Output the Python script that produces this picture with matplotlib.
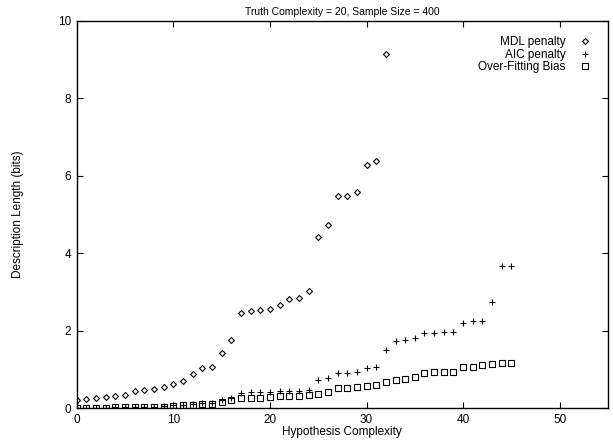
import matplotlib
matplotlib.use("Agg")
import matplotlib.pyplot as plt
import numpy as np

plt.rcParams['font.family'] = ['Liberation Sans', 'DejaVu Sans']

# hypothesis complexity values
mdl_x = list(range(0, 33))
mdl_penalty = [0.22, 0.23, 0.26, 0.28, 0.32, 0.34, 0.44, 0.46, 0.50, 0.54,
               0.62, 0.71, 0.87, 1.04, 1.07, 1.42, 1.77, 2.46, 2.50, 2.53,
               2.57, 2.66, 2.83, 2.85, 3.02, 4.42, 4.74, 5.47, 5.49, 5.57,
               6.27, 6.37, 9.14]

aic_x = list(range(0, 46))
aic_penalty = [0.01, 0.01, 0.01, 0.01, 0.02, 0.02, 0.03, 0.03, 0.04, 0.05,
               0.08, 0.09, 0.10, 0.14, 0.14, 0.20, 0.25, 0.40, 0.41, 0.41,
               0.42, 0.43, 0.44, 0.44, 0.47, 0.72, 0.78, 0.90, 0.90, 0.92,
               1.03, 1.05, 1.50, 1.74, 1.76, 1.82, 1.95, 1.95, 1.97, 1.97,
               2.20, 2.25, 2.26, 2.73, 3.66, 3.68]

bias_x = list(range(0, 46))
overfit_bias = [0.01, 0.01, 0.01, 0.01, 0.02, 0.02, 0.02, 0.02, 0.03, 0.04,
                0.06, 0.07, 0.08, 0.10, 0.10, 0.15, 0.20, 0.25, 0.26, 0.27,
                0.28, 0.30, 0.31, 0.31, 0.34, 0.36, 0.42, 0.53, 0.53, 0.55,
                0.58, 0.59, 0.68, 0.73, 0.74, 0.79, 0.91, 0.93, 0.94, 0.94,
                1.05, 1.07, 1.10, 1.14, 1.17, 1.17]

fig = plt.figure(figsize=(6.13, 4.45), dpi=100)
ax = fig.add_axes([0.125, 0.083, 0.867, 0.87])

ax.plot(mdl_x, mdl_penalty, linestyle='none', marker='D', markersize=3.0,
        markerfacecolor='none', markeredgecolor='black', markeredgewidth=0.8,
        label='MDL penalty')
ax.plot(aic_x, aic_penalty, linestyle='none', marker='+', markersize=5,
        color='black', markeredgewidth=0.8, label='AIC penalty')
ax.plot(bias_x, overfit_bias, linestyle='none', marker='s', markersize=4.2,
        markerfacecolor='none', markeredgecolor='black', markeredgewidth=0.8,
        label='Over-Fitting Bias')

ax.set_xlim(0, 55)
ax.set_ylim(0, 10)
ax.set_xticks(np.arange(0, 51, 10))
ax.set_yticks(np.arange(0, 11, 2))
ax.tick_params(direction='in', top=True, right=True, labelsize=8.5, length=4, pad=4)
for s in ax.spines.values():
    s.set_linewidth(1.0)

ax.set_title('Truth Complexity = 20, Sample Size = 400', fontsize=7.5, pad=4)
ax.set_xlabel('Hypothesis Complexity', fontsize=8.5, labelpad=0)
ax.set_ylabel('Description Length (bits)', fontsize=8.5, labelpad=24)

ax.legend(loc='upper right', markerfirst=False, frameon=False, fontsize=8.5,
          handlelength=1.3, handletextpad=1.0, labelspacing=0.05,
          borderaxespad=0.9)

fig.savefig('out.png', dpi=100)
